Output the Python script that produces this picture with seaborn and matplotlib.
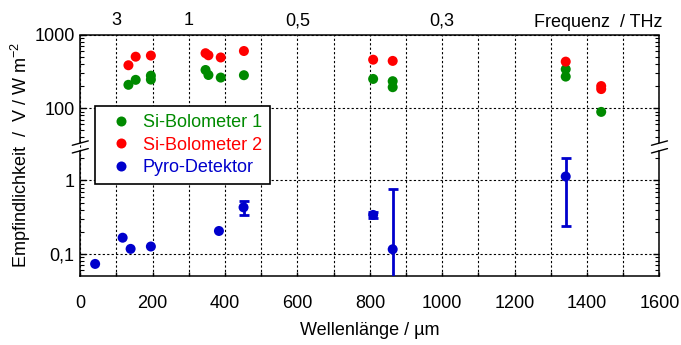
import numpy as np
import pandas as pd
import matplotlib
matplotlib.use("Agg")
import matplotlib.pyplot as plt
import seaborn as sns

# Wellenlänge (µm) und Empfindlichkeit (V / W m^-2) je Detektor
si1_wl = [133, 153, 195, 195, 346, 354, 388, 452, 809, 863, 863, 1341, 1341, 1439]
si1_resp = [208, 243, 277, 245, 331, 283, 261, 281, 250, 233, 193, 339, 269, 89]
si2_wl = [133, 153, 195, 346, 354, 388, 452, 809, 863, 1341, 1439, 1439]
si2_resp = [384, 502, 520, 560, 525, 490, 600, 457, 440, 430, 200, 182]
pyro_wl = [41, 117, 139, 195, 383, 451, 809, 863, 1341]
pyro_resp = [0.073, 0.166, 0.117, 0.126, 0.205, 0.43, 0.339, 0.1155, 1.13]

# Unsicherheitsbereich (untere / obere Grenze) einzelner Pyro-Messungen
pyro_err_wl = [451, 809, 863, 1341]
pyro_err_lo = [0.334, 0.31, 0.01, 0.237]
pyro_err_hi = [0.53, 0.37, 0.76, 2.03]

detectors = ["Si-Bolometer 1", "Si-Bolometer 2", "Pyro-Detektor"]
colors = ["#008a00", "#ff0000", "#0000cc"]

x_ticks = [0, 200, 400, 600, 800, 1000, 1200, 1400, 1600]
y_ticks = [0.1, 1, 100, 1000]
y_ticklabels = ["0,1", "1", "100", "1000"]
freq_ticks = [3, 1, 0.5, 0.3]
freq_ticklabels = ["3", "1", "0,5", "0,3"]

sns.set_style("white")
plt.rcParams["font.family"] = ["Liberation Sans", "DejaVu Sans"]
plt.rcParams["mathtext.fontset"] = "custom"
plt.rcParams["mathtext.rm"] = "Liberation Sans"
plt.rcParams["mathtext.it"] = "Liberation Sans:italic"
plt.rcParams["mathtext.bf"] = "Liberation Sans:bold"
for key in ("text.color", "axes.labelcolor", "xtick.color", "ytick.color"):
    plt.rcParams[key] = "black"
FS = 13

df = pd.concat([
    pd.DataFrame({"wl": si1_wl, "resp": si1_resp, "det": detectors[0]}),
    pd.DataFrame({"wl": si2_wl, "resp": si2_resp, "det": detectors[1]}),
    pd.DataFrame({"wl": pyro_wl, "resp": pyro_resp, "det": detectors[2]}),
], ignore_index=True)

# Unterbrochene logarithmische y-Achse: zwischen 2,53 und 33,5 wird ausgespart
LOW_TOP, HIGH_BOT = 2.53, 33.5
A, B = np.log10(LOW_TOP), np.log10(HIGH_BOT)
GAP = 0.105


def fwd(v):
    l = np.log10(np.clip(np.asarray(v, float), 1e-12, None))
    return np.where(l <= A, l,
                    np.where(l >= B, l - (B - A) + GAP,
                             A + (l - A) * GAP / (B - A)))


def inv(t):
    t = np.asarray(t, float)
    l = np.where(t <= A, t,
                 np.where(t >= A + GAP, t + (B - A) - GAP,
                          A + (t - A) * (B - A) / GAP))
    return 10 ** l


fig = plt.figure(figsize=(6.81, 3.45), dpi=100)
ax = fig.add_axes([0.1179, 0.2, 0.8505, 0.6994])
ax.set_yscale("function", functions=(fwd, inv))

grid_kw = dict(color="black", linewidth=0.8, linestyle=(0, (2, 2)))
ax.set_axisbelow(True)

sns.scatterplot(data=df, x="wl", y="resp", hue="det", hue_order=detectors,
                palette=dict(zip(detectors, colors)), s=52, linewidth=0,
                ax=ax, zorder=3)

err_c = [pyro_resp[pyro_wl.index(w)] for w in pyro_err_wl]
ax.errorbar(pyro_err_wl, err_c,
            yerr=[np.subtract(err_c, pyro_err_lo), np.subtract(pyro_err_hi, err_c)],
            fmt="none", ecolor=colors[2], elinewidth=2.0, capsize=3.6,
            capthick=2.0, zorder=3)

ax.set_xlim(0, 1600)
ax.set_ylim(0.05, 1000)
ax.set_xticks(x_ticks)
ax.set_xticks(np.arange(100, 1600, 200), minor=True)
ax.set_yticks(y_ticks)
ax.set_yticklabels(y_ticklabels)
minor_y = ([k * 0.01 for k in range(6, 10)] + [k * 0.1 for k in range(2, 10)] + [2]
           + [k * 10 for k in range(4, 10)] + [k * 100 for k in range(2, 10)])
ax.set_yticks(minor_y, minor=True)
ax.xaxis.grid(True, which="both", **grid_kw)
ax.yaxis.grid(True, which="major", **grid_kw)

ax.tick_params(axis="x", which="both", direction="in", top=True, bottom=True,
               length=3, width=1, labelsize=FS, pad=14)
ax.tick_params(axis="y", which="major", direction="in", left=True, right=True,
               length=4, width=1, labelsize=FS, pad=4)
ax.tick_params(axis="y", which="minor", direction="in", left=True, right=True,
               length=3, width=0.8)

ax.set_xlabel("Wellenlänge / µm", fontsize=FS, labelpad=7)
ax.set_ylabel("Empfindlichkeit  /  V / W m$^{-2}$", fontsize=FS, labelpad=1)

# Frequenzskala oben
C = 299.792458  # µm·THz
ax2 = ax.twiny()
ax2.set_xlim(ax.get_xlim())
ax2.set_xticks([C / f for f in freq_ticks])
ax2.set_xticklabels(freq_ticklabels)
ax2.tick_params(axis="x", length=0, labelsize=FS, pad=4)
for sp in ax2.spines.values():
    sp.set_visible(False)
ax2.text(1.006, 1.031, "Frequenz  / THz", transform=ax.transAxes,
         ha="right", va="baseline", fontsize=FS)

# Rahmen mit Achsenbruch
lw_sp = 1.1
for sp in ax.spines.values():
    sp.set_linewidth(lw_sp)
    sp.set_color("black")
for side, xs in (("left", 0), ("right", 1)):
    ax.spines[side].set_bounds(0.05, LOW_TOP)
    ax.plot([xs, xs], [HIGH_BOT, 1000], transform=ax.get_yaxis_transform(),
            color="black", lw=lw_sp, clip_on=False, solid_capstyle="butt")
t0, t1 = float(fwd(0.05)), float(fwd(1000))
dx, dy = 8 / 579.2, 2.2 / 241.3
for xs in (0, 1):
    for v in (LOW_TOP, HIGH_BOT):
        yf = (float(fwd(v)) - t0) / (t1 - t0)
        ax.plot([xs - dx, xs + dx], [yf - dy, yf + dy], transform=ax.transAxes,
                color="black", lw=1.0, clip_on=False)

handles, labels = ax.get_legend_handles_labels()
leg = ax.legend(handles, labels, loc="upper left", bbox_to_anchor=(0.0254, 0.7045),
                frameon=True, fancybox=False, edgecolor="black", framealpha=1,
                borderaxespad=0, borderpad=0.45, handlelength=2.0,
                handletextpad=0.2, labelspacing=0.3, fontsize=FS)
leg.get_frame().set_linewidth(1.2)
for txt, c in zip(leg.get_texts(), colors):
    txt.set_color(c)

fig.savefig("out.png", dpi=100)
